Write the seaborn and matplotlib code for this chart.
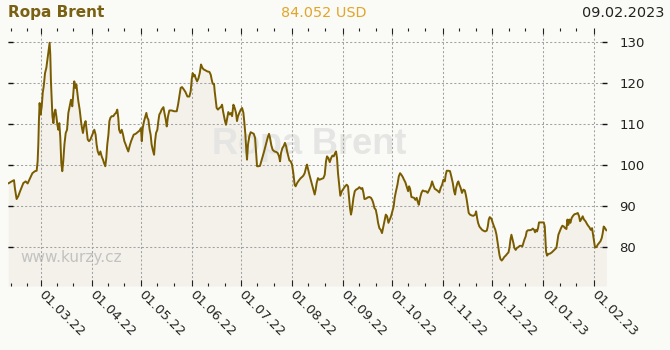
import numpy as np
import pandas as pd
import matplotlib
matplotlib.use("Agg")
import matplotlib.pyplot as plt
import matplotlib.dates as mdates
import seaborn as sns

# ---------------- data ----------------
title = "Ropa Brent"
last_price = "84.052 USD"
last_date = "09.02.2023"
watermark = "www.kurzy.cz"
base_date = "2022-03-01"   # day 0

days = [
    -19.7, -17.6, -16.2, -15.6, -14.6, -13.6, -12.5, -10.5, -9.1, -7.9, -6.5, -5.0, -3.4, -2.4,
    -1.8, -1.4, -1.0, -0.6, 0.0, 0.7, 1.3, 1.9, 2.7, 3.5, 4.3, 4.9, 5.5, 5.9, 6.3, 6.7, 7.2,
    7.8, 8.4, 9.0, 9.6, 10.2, 10.8, 11.4, 12.0, 12.6, 13.2, 13.8, 14.5, 15.3, 16.1, 16.9, 17.7,
    18.5, 19.3, 19.9, 20.5, 21.2, 21.8, 22.4, 23.0, 23.8, 24.6, 25.2, 25.8, 26.6, 27.4, 28.1,
    28.7, 29.5, 30.3, 31.1, 31.9, 32.7, 33.5, 34.1, 34.8, 35.6, 36.4, 37.2, 38.0, 38.6, 39.4,
    40.0, 40.6, 41.3, 41.9, 42.5, 43.3, 44.3, 45.1, 45.9, 46.7, 47.3, 47.8, 48.6, 49.4, 50.2,
    51.0, 51.8, 52.6, 53.4, 54.2, 55.1, 55.9, 56.7, 57.9, 59.1, 60.3, 61.1, 61.6, 62.2, 63.0,
    63.8, 64.4, 65.0, 65.6, 66.4, 67.0, 67.6, 68.3, 69.1, 69.7, 70.3, 71.1, 71.7, 72.3,
    72.9, 73.7, 74.8, 75.4, 76.2, 76.8, 77.6, 78.4, 79.8, 81.3, 82.9, 83.7, 84.5, 85.3, 86.1,
    86.9, 88.2, 89.4, 90.6, 91.4, 92.0, 92.6, 93.2, 93.8, 94.4, 95.3, 96.1, 96.9, 97.7, 98.5,
    99.3, 100.3, 101.6, 102.8, 103.6, 104.2, 104.8, 105.6, 106.0, 106.6, 107.2, 108.0, 108.9,
    109.7, 110.5, 111.1, 111.7, 112.3, 112.9, 113.5, 114.3, 115.2, 116.0, 116.6, 117.4, 118.2,
    119.0, 119.6, 120.2, 121.0, 121.9, 122.7, 123.5, 124.1, 124.7, 125.3, 125.7, 126.3, 127.1,
    127.9, 128.8, 129.8, 130.6, 131.2, 131.8, 132.8, 133.6, 134.4, 135.3, 136.1, 136.9, 137.7,
    138.5, 139.1, 139.7, 140.5, 141.3, 142.4, 143.4, 144.4, 145.2, 145.8, 146.4, 147.2, 148.0,
    148.8, 149.5, 150.1, 150.9, 151.5, 152.3, 153.1, 153.9, 154.7, 155.3, 156.2, 157.2, 158.4,
    159.0, 160.0, 160.8, 161.6, 162.2, 162.9, 163.7, 164.5, 165.3, 166.1, 166.9, 167.5, 168.1,
    168.9, 169.8, 171.0, 172.2, 173.0, 173.8, 174.4, 175.2, 176.1, 176.9, 177.7, 178.5, 179.3,
    179.9, 180.5, 181.1, 181.9, 182.5, 183.4, 184.4, 185.4, 186.4, 187.2, 187.8, 188.4, 189.0,
    189.6, 190.5, 191.3, 192.1, 193.1, 194.1, 195.1, 195.9, 196.6, 197.2, 198.2, 199.2, 200.2,
    201.2, 202.0, 202.6, 203.3, 204.1, 204.9, 205.5, 206.3, 207.1, 207.9, 208.5, 209.3, 210.2,
    211.0, 211.8, 212.6, 213.4, 214.2, 215.0, 215.6, 216.4, 217.3, 218.1, 218.9, 219.7, 220.5,
    221.3, 222.1, 222.9, 223.8, 224.4, 225.0, 225.8, 226.6, 227.4, 228.2, 229.0, 229.6, 230.3,
    231.1, 231.9, 232.7, 233.7, 234.7, 235.7, 236.7, 237.6, 238.4, 239.2, 240.0, 240.8, 241.8,
    242.8, 243.6, 244.5, 245.3, 246.1, 246.7, 247.3, 248.3,
    249.3, 250.1, 251.0, 251.8, 252.4, 253.0, 253.8, 254.4, 255.0, 255.8, 256.6, 257.5, 258.3,
    258.9, 259.5, 260.1, 260.7, 261.5, 262.5, 263.5, 264.6, 265.2, 265.8, 266.4, 267.2, 268.0,
    268.8, 269.6, 270.6, 271.7, 272.3, 272.9, 273.5, 274.1, 274.7, 275.3, 276.1, 276.9, 277.6,
    278.2, 278.8, 279.4, 280.0, 280.8, 281.6, 282.4, 283.2, 284.0, 284.9, 285.5, 286.1, 286.7,
    287.3, 287.9, 288.5, 289.3, 290.1, 291.0, 291.8, 292.6, 293.4, 294.0, 294.6, 295.4, 296.0,
    296.8, 297.9, 298.9, 299.7, 300.5, 301.1, 301.7, 302.3, 302.9, 303.5, 304.6, 305.6, 306.4,
    307.0, 307.4, 307.8, 308.4, 309.2, 310.2, 311.3, 312.3, 313.3, 314.1, 314.7, 315.3, 316.1,
    316.9, 317.7, 318.6, 319.4, 320.2, 320.8, 321.4, 322.0, 322.6, 323.4, 324.2, 325.1, 326.1,
    327.1, 327.9, 328.5, 329.3, 330.1, 330.9, 331.8, 332.6, 333.4, 334.2, 335.0, 335.8, 336.4,
    337.0, 337.6, 338.5, 339.3, 340.1, 340.9, 341.7, 342.3, 342.9, 343.7, 344.5,
]

prices = [
    95.5, 96.0, 96.3, 94.2, 91.7, 92.4, 93.6, 95.6, 96.0, 95.5, 96.7, 98.0, 98.5, 98.6,
    100.9, 105.0, 111.1, 115.1, 112.3, 114.3, 117.6, 119.2, 122.4, 123.7, 126.1, 127.7, 129.8, 126.9, 120.4, 116.7, 111.9,
    110.2, 112.7, 113.5, 111.9, 109.8, 108.6, 110.2, 106.6, 100.5, 98.5, 100.9, 105.0, 107.8, 108.6, 112.7, 114.3,
    115.9, 114.3, 117.2, 120.4, 118.8, 119.6, 117.6, 115.5, 113.5, 110.7, 109.0, 107.8, 109.8, 110.7, 108.2,
    106.2, 105.8, 106.2, 107.0, 107.8, 108.6, 107.4, 105.0, 103.3, 102.5, 103.3, 102.1, 101.3, 100.5, 99.7,
    101.7, 105.0, 107.4, 110.7, 111.5, 111.9, 111.9, 112.4, 112.7, 113.5, 111.5, 108.6, 107.8, 108.6, 107.4,
    105.8, 105.0, 104.1, 103.3, 104.6, 105.8, 106.6, 107.4, 107.6, 108.0, 108.4, 109.0, 105.8, 109.0, 110.7,
    111.9, 112.7, 111.5, 111.1, 108.6, 107.4, 105.0, 103.7, 102.5, 105.8, 107.8, 108.6, 110.7, 112.3,
    112.7, 113.5, 114.1, 112.7, 111.1, 109.4, 111.9, 113.3, 113.3, 113.1, 113.1, 114.7, 116.7, 118.8, 119.0,
    118.6, 117.8, 116.7, 116.7, 118.0, 120.8, 122.4, 121.6, 122.0, 121.2, 120.4, 121.1, 122.4, 124.5, 123.7,
    123.3, 123.1, 122.8, 122.7, 122.0, 120.8, 119.8, 119.8, 118.0, 115.9, 113.9, 113.5, 113.9,
    114.1, 114.7, 113.1, 111.9, 110.7, 109.8, 111.1, 112.9, 112.3, 112.7, 111.9, 114.7, 113.9,
    112.7, 110.7, 111.9, 112.7, 113.5, 113.9, 112.7, 110.2, 107.4, 103.3, 101.3, 105.0, 107.0,
    108.0, 107.8, 107.6, 106.6, 103.3, 99.7, 99.7, 99.8, 100.9, 102.1, 103.3, 104.6, 105.8,
    107.0, 107.6, 106.6, 104.8, 103.7, 103.3, 103.2, 102.9, 102.1, 100.9, 102.9, 104.1, 104.6,
    105.4, 104.6, 103.3, 102.1, 101.1, 100.9, 100.1, 98.0, 95.2, 94.8, 95.6, 96.2, 96.8,
    97.0, 97.4, 98.0, 99.3, 100.1, 98.9, 97.6, 96.4, 95.2, 94.0, 92.8, 94.0, 95.6,
    96.8, 96.4, 96.6, 96.8, 97.6, 100.9, 102.1, 101.7, 100.7, 101.7, 102.3, 102.1, 102.9,
    103.3, 101.7, 98.0, 94.8, 92.5, 93.6, 94.2, 94.8, 95.2, 94.8, 92.0, 89.5, 87.9,
    89.1, 92.0, 93.6, 94.0, 94.2, 94.6, 94.2, 94.4, 93.2, 91.7, 91.8, 92.1, 92.2,
    92.0, 91.4, 90.7, 89.5, 89.1, 87.5, 85.9, 84.6, 84.2, 83.4, 84.6, 86.3, 87.9,
    87.5, 85.9, 86.7, 87.5, 88.7, 89.9, 92.0, 93.6, 95.2, 97.2, 98.0, 97.6, 97.1,
    96.4, 95.8, 94.8, 93.6, 94.8, 94.2, 92.2, 92.1, 92.0, 91.5, 92.0, 91.1, 90.3,
    92.0, 93.2, 93.8, 93.6, 93.6, 93.2, 94.0, 94.8, 96.0, 95.0, 94.2, 94.0, 93.7,
    93.3, 94.4, 95.2, 96.4, 96.0, 97.6, 98.6, 98.6,
    98.5, 97.2, 95.6, 93.6, 92.8, 94.4, 95.6, 96.0, 95.2, 94.4, 93.2, 94.0, 93.8,
    92.8, 91.5, 89.9, 88.3, 87.9, 87.7, 87.6, 87.9, 88.7, 87.1, 85.9, 85.0, 84.6,
    84.2, 84.0, 83.8, 84.0, 85.0, 86.7, 87.3, 87.1, 86.7, 85.9, 85.0, 84.2, 83.0,
    81.4, 79.8, 78.1, 77.1, 76.7, 77.1, 77.6, 77.9, 78.3, 78.7, 79.8, 81.8, 83.0,
    82.0, 81.0, 79.8, 79.3, 79.8, 80.0, 80.3, 80.3, 80.2, 81.0, 81.8, 82.6, 83.8,
    84.1, 84.1, 84.2, 84.5, 84.2, 83.6, 84.2, 83.8, 84.6, 86.0, 86.0, 86.0, 86.0,
    85.0, 81.8, 78.9, 77.9, 78.3, 78.4, 78.7, 79.1, 79.5, 79.8, 81.4, 83.0, 83.8,
    84.6, 85.2, 85.0, 84.6, 84.4, 86.7, 85.4, 86.7, 85.9, 87.1, 87.6, 88.0, 88.1,
    88.3, 87.5, 86.3, 86.8, 87.5, 86.7, 86.3, 85.7, 85.2, 84.8, 84.2, 84.6, 83.0,
    81.4, 79.9, 80.0, 80.6, 81.0, 81.4, 82.2, 83.4, 85.0, 84.6, 84.05,
]

y_ticks = [80, 90, 100, 110, 120, 130]

# ---------------- build ----------------
base = pd.Timestamp(base_date)
df = pd.DataFrame({
    "date": base + pd.to_timedelta(np.array(days), unit="D"),
    "price": prices,
})

bg = "#fafaf6"
line_col = "#7a5c00"

sns.set_theme(style="white")
plt.rcParams["font.family"] = ["DejaVu Sans"]

fig = plt.figure(figsize=(6.7, 3.5), dpi=100, facecolor=bg)
ax = fig.add_axes([8 / 670, 1 - 286 / 350, 599 / 670, 258 / 350])
ax.set_facecolor(bg)

y_lo, y_hi = 70.5, 133.4
ax.fill_between(df["date"], df["price"], y_lo, color="#f3f1ea", lw=0, zorder=1)

ax.text(0.503, 0.547, title, transform=ax.transAxes, ha="center", va="center",
        fontsize=26, fontweight="bold", color="#e5e5e3", zorder=2,
        family=["Liberation Sans", "DejaVu Sans"])
ax.text(0.021, 0.112, watermark, transform=ax.transAxes, ha="left", va="center",
        fontsize=11, color="#c2c2c0", zorder=2)

sns.lineplot(data=df, x="date", y="price", ax=ax, color=line_col, linewidth=1.4,
             sort=False, estimator=None, zorder=4)

ax.set_xlim(base + pd.Timedelta(days=-19.85), base + pd.Timedelta(days=344.9))
ax.set_ylim(y_lo, y_hi)
ax.set_xlabel("")
ax.set_ylabel("")

ax.xaxis.set_major_locator(mdates.MonthLocator())
ax.xaxis.set_major_formatter(mdates.DateFormatter("%d.%m.%y"))
ax.xaxis.set_minor_locator(mdates.DayLocator(bymonthday=[11, 21]))
ax.set_yticks(y_ticks)

ax.set_axisbelow(False)
ax.grid(True, which="major", color="#a2a2a2", linestyle=(0, (2, 2)), linewidth=0.75)
for gl in ax.get_xgridlines() + ax.get_ygridlines():
    gl.set_zorder(3)

for s in ax.spines.values():
    s.set_visible(False)

ax.tick_params(axis="y", which="both", left=True, right=True, labelleft=False, labelright=True,
               direction="in", length=3.5, width=1, color="#111111", pad=9,
               labelsize=9.5, labelcolor="#222222")
ax.tick_params(axis="x", which="major", bottom=True, top=True, direction="in", length=4,
               width=0.8, color="#222222", pad=5, labelsize=9.5, labelcolor="#222222")
ax.tick_params(axis="x", which="minor", bottom=True, top=True, direction="in", length=2,
               width=0.8, color="#222222")
for lbl in ax.get_xticklabels():
    lbl.set_rotation(-45)
    lbl.set_ha("left")
    lbl.set_va("center")
    lbl.set_rotation_mode("anchor")

fig.text(8 / 670, 1 - 13 / 350, title, ha="left", va="center", fontsize=11,
         fontweight="bold", color="#7a6012")
fig.text(324 / 670, 1 - 13 / 350, last_price, ha="center", va="center", fontsize=10.4,
         color="#e2a52a")
fig.text(664 / 670, 1 - 13 / 350, last_date, ha="right", va="center", fontsize=10.4,
         color="#222222")

fig.savefig("out.png", dpi=100, facecolor=bg)
